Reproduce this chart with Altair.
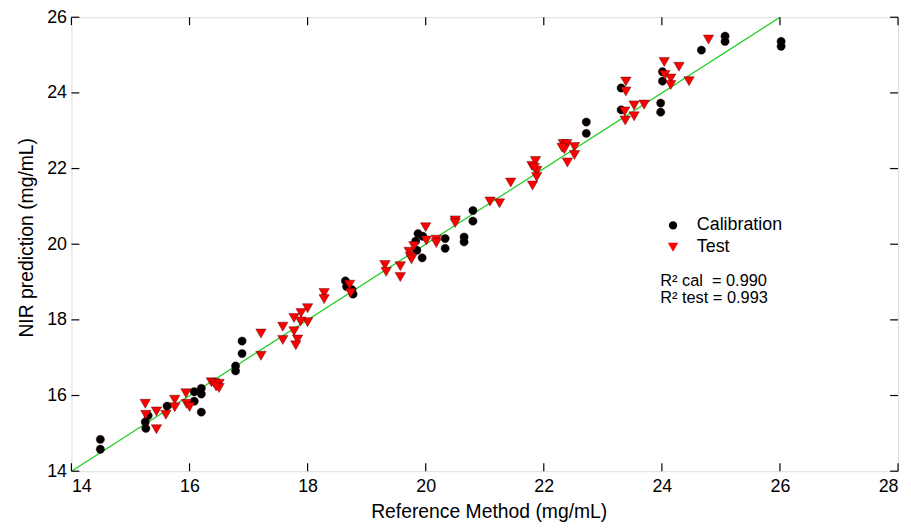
import altair as alt
import pandas as pd

# Calibration set
cal_x = [14.49, 14.49, 15.25, 15.26, 15.30, 15.62, 16.08, 16.08, 16.20, 16.20, 16.20,
         16.78, 16.78, 16.89, 16.89, 18.64, 18.66, 18.75, 18.77, 19.87, 19.83, 19.95,
         19.85, 19.94, 20.33, 20.33, 20.65, 20.65, 20.80, 20.80, 22.72, 22.72, 23.31,
         23.31, 23.98, 23.98, 24.01, 24.01, 24.67, 25.07, 25.07, 26.02, 26.02]
cal_y = [14.84, 14.58, 15.30, 15.13, 15.47, 15.72, 16.10, 15.85, 16.19, 16.04, 15.56,
         16.78, 16.65, 17.44, 17.11, 19.03, 18.88, 18.80, 18.68, 20.28, 20.08, 20.21,
         19.84, 19.64, 20.15, 19.89, 20.19, 20.06, 20.89, 20.61, 23.23, 22.93, 24.13,
         23.55, 23.73, 23.49, 24.56, 24.31, 25.13, 25.50, 25.36, 25.36, 25.23]

# Test set
test_x = [15.25, 15.26, 15.44, 15.44, 15.60, 15.75, 15.75, 15.94, 15.95, 16.00, 16.37,
          16.42, 16.50, 16.50, 16.45, 17.21, 17.21, 17.58, 17.58, 17.77, 17.77, 17.83,
          17.80, 17.89, 18.00, 18.00, 17.88, 18.28, 18.28, 18.71, 18.73, 19.31, 19.33,
          19.57, 19.57, 19.72, 19.74, 19.76, 19.80, 20.00, 20.01, 20.18, 20.18, 20.50,
          20.50, 21.09, 21.25, 21.44, 21.81, 21.80, 21.86, 21.88, 21.88, 21.84, 22.33,
          22.39, 22.35, 22.31, 22.52, 22.52, 22.40, 23.38, 23.37, 23.53, 23.53, 23.70,
          23.39, 23.39, 24.04, 24.05, 24.15, 24.15, 24.29, 24.46, 24.79]
test_y = [15.78, 15.49, 15.58, 15.11, 15.49, 15.89, 15.69, 16.06, 15.78, 15.70, 16.35,
          16.33, 16.31, 16.20, 16.24, 17.64, 17.05, 17.82, 17.47, 18.05, 17.70, 17.48,
          17.33, 18.18, 18.31, 17.94, 17.96, 18.71, 18.55, 18.93, 18.71, 19.45, 19.27,
          19.42, 19.13, 19.80, 19.67, 19.60, 19.95, 20.45, 20.10, 20.12, 20.03, 20.63,
          20.56, 21.13, 21.08, 21.63, 21.55, 22.07, 22.20, 21.94, 21.78, 22.02, 22.65,
          22.65, 22.51, 22.55, 22.57, 22.36, 22.16, 23.27, 23.51, 23.38, 23.67, 23.69,
          24.30, 24.04, 24.82, 24.47, 24.38, 24.21, 24.69, 24.31, 25.41]

series_names = ["Calibration", "Test"]
line_x = [14, 26]
x_ticks = [14, 16, 18, 20, 22, 24, 26, 28]
y_ticks = [14, 16, 18, 20, 22, 24, 26]
r2_cal = "R\u00b2 cal\u00a0 = 0.990"
r2_test = "R\u00b2 test = 0.993"

W, H = 834, 458
FONT = "Liberation Sans"

pts = pd.DataFrame({
    "ref": cal_x + test_x,
    "nir": cal_y + test_y,
    "series": [series_names[0]] * len(cal_x) + [series_names[1]] * len(test_x),
})
line_df = pd.DataFrame({"ref": line_x, "nir": line_x})
xt = pd.DataFrame({"v": x_ticks})
yt = pd.DataFrame({"v": y_ticks})

xs = alt.Scale(domain=[14, 28], nice=False, zero=False)
ys = alt.Scale(domain=[14, 26], nice=False, zero=False)

xaxis = alt.Axis(values=x_ticks, format="d", tickSize=0, domain=False, grid=False,
                 labelPadding=7, labelFontSize=18, labelFont=FONT, labelColor="black",
                 title="Reference Method (mg/mL)", titleFont=FONT, titleFontSize=19.5,
                 titleFontWeight="normal", titleColor="black", titlePadding=7,
                 titleX=421)
yaxis = alt.Axis(values=y_ticks, format="d", tickSize=0, domain=False, grid=False,
                 labelPadding=5, labelFontSize=18, labelFont=FONT, labelColor="black",
                 title="NIR prediction (mg/mL)", titleFont=FONT, titleFontSize=19.5,
                 titleFontWeight="normal", titleColor="black", titlePadding=10,
                 titleY=222)

line = alt.Chart(line_df).mark_line(color="#22cc22", strokeWidth=1.3, clip=True).encode(
    x=alt.X("ref:Q", scale=xs, axis=xaxis),
    y=alt.Y("nir:Q", scale=ys, axis=yaxis),
)

points = alt.Chart(pts).mark_point(filled=True, opacity=1, stroke="#330000",
                                   strokeWidth=0.4).encode(
    x=alt.X("ref:Q", scale=xs),
    y=alt.Y("nir:Q", scale=ys),
    color=alt.Color("series:N",
                    scale=alt.Scale(domain=series_names, range=["black", "#ff0000"]),
                    legend=alt.Legend(title=None, orient="none", legendX=598, legendY=201,
                                      labelFontSize=18, labelFont=FONT, labelColor="black",
                                      symbolSize=55, rowPadding=4, labelOffset=15,
                                      padding=0, symbolStrokeWidth=0)),
    shape=alt.Shape("series:N",
                    scale=alt.Scale(domain=series_names, range=["circle", "triangle-down"]),
                    legend=None),
    size=alt.Size("series:N", scale=alt.Scale(domain=series_names, range=[70, 110]),
                  legend=None),
)

bottom_ticks = alt.Chart(xt).mark_rule(color="black", strokeWidth=1.2).encode(
    x=alt.X("v:Q", scale=xs), y=alt.value(H), y2=alt.value(H - 8))
top_ticks = alt.Chart(xt).mark_rule(color="black", strokeWidth=1.2).encode(
    x=alt.X("v:Q", scale=xs), y=alt.value(0), y2=alt.value(8))
left_ticks = alt.Chart(yt).mark_rule(color="black", strokeWidth=1.2).encode(
    y=alt.Y("v:Q", scale=ys), x=alt.value(0), x2=alt.value(8))
right_ticks = alt.Chart(yt).mark_rule(color="black", strokeWidth=1.2).encode(
    y=alt.Y("v:Q", scale=ys), x=alt.value(W), x2=alt.value(W - 8))

r2_text1 = alt.Chart(pd.DataFrame({"t": [r2_cal]})).mark_text(
    align="left", baseline="alphabetic", fontSize=16.5, font=FONT, color="black").encode(
    text="t:N", x=alt.value(594), y=alt.value(271))
r2_text2 = alt.Chart(pd.DataFrame({"t": [r2_test]})).mark_text(
    align="left", baseline="alphabetic", fontSize=16.5, font=FONT, color="black").encode(
    text="t:N", x=alt.value(594), y=alt.value(288))

chart = alt.layer(line, bottom_ticks, top_ticks, left_ticks, right_ticks, points,
                  r2_text1, r2_text2).properties(
    width=W, height=H,
    autosize=alt.AutoSizeParams(type="none"),
    padding={"left": 64, "top": 7, "right": 5, "bottom": 55},
).configure_view(
    stroke="black", strokeWidth=1.5
).configure(background="white")

chart.save("out.html", embed_options={"renderer": "svg", "actions": False})
